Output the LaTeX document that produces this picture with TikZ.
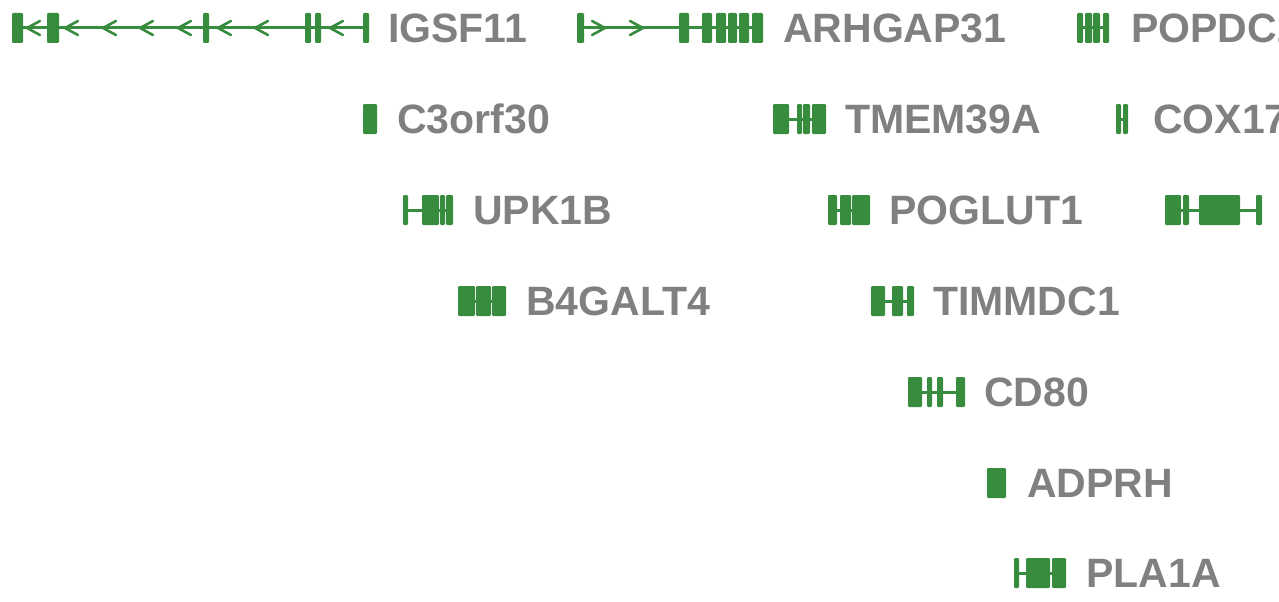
\documentclass[tikz,border=0pt]{standalone}
\usepackage{fontspec}
\setmainfont{Liberation Sans}
\usepackage{xcolor}
\usepackage{tikz}
\usetikzlibrary{calc}
\definecolor{exongreen}{RGB}{56,140,62}
\definecolor{labelgray}{RGB}{128,128,128}

\begin{document}
\begin{tikzpicture}[
  x=1pt, y=-1pt,
  exon/.style={fill=exongreen, rounded corners=1.2pt},
  intron/.style={draw=exongreen, line width=3pt},
  chev/.style={draw=exongreen, line width=2.6pt, line cap=round},
  lbl/.style={font=\fontsize{41}{49}\selectfont\bfseries, text=labelgray, anchor=base west, inner sep=0pt}
]
\useasboundingbox (0,0) rectangle (1279,602);
\clip (0,0) rectangle (1279,602);
\def\exh{15}    % half exon height
\def\chv{7}     % half chevron height
\def\cap{14.6}  % half cap height of the labels

%========== row 1 ==========
\def\yy{28}
% IGSF11, minus strand
\draw[intron] (12,\yy) -- (369,\yy);
\foreach \a/\b in {12/23,47/59,203/209,305/311,315/321,363/369}{\fill[exon] (\a,\yy-\exh) rectangle (\b,\yy+\exh);}
\foreach \c in {27,65,103,140,178,218,255,330}{\draw[chev] (\c+13,\yy-\chv) -- (\c,\yy) -- (\c+13,\yy+\chv);}
\node[lbl] (igsf11) at (388,\yy+\cap) {IGSF11};
% ARHGAP31, plus strand
\draw[intron] (577,\yy) -- (763,\yy);
\foreach \a/\b in {577/584,679/689,702/712,716/726,728/737,739/749,752/763}{\fill[exon] (\a,\yy-\exh) rectangle (\b,\yy+\exh);}
\foreach \c in {605,643}{\draw[chev] (\c-13,\yy-\chv) -- (\c,\yy) -- (\c-13,\yy+\chv);}
\node[lbl] (arhgap31) at (783,\yy+\cap) {ARHGAP31};
% POPDC2
\draw[intron] (1077,\yy) -- (1109,\yy);
\foreach \a/\b in {1077/1083,1085/1092,1093/1100,1103/1109}{\fill[exon] (\a,\yy-\exh) rectangle (\b,\yy+\exh);}
\node[lbl] (popdc2) at (1131,\yy+\cap) {POPDC2};

%========== row 2 ==========
\def\yy{119}
% C3orf30
\fill[exon] (363,\yy-\exh) rectangle (377,\yy+\exh);
\node[lbl] (c3orf30) at (397,\yy+\cap) {C3orf30};
% TMEM39A
\draw[intron] (773,\yy) -- (826,\yy);
\foreach \a/\b in {773/789,797/802,803/810,812/826}{\fill[exon] (\a,\yy-\exh) rectangle (\b,\yy+\exh);}
\node[lbl] (tmem39a) at (845,\yy+\cap) {TMEM39A};
% COX17
\draw[intron] (1116,\yy) -- (1128,\yy);
\foreach \a/\b in {1116/1121,1123/1128}{\fill[exon] (\a,\yy-\exh) rectangle (\b,\yy+\exh);}
\node[lbl] (cox17) at (1153,\yy+\cap) {COX17};

%========== row 3 ==========
\def\yy{210}
% UPK1B
\draw[intron] (403,\yy) -- (453,\yy);
\foreach \a/\b in {403/408,422/439,440/445,446/453}{\fill[exon] (\a,\yy-\exh) rectangle (\b,\yy+\exh);}
\node[lbl] (upk1b) at (473,\yy+\cap) {UPK1B};
% POGLUT1
\draw[intron] (828,\yy) -- (870,\yy);
\foreach \a/\b in {828/837,840/851,852/870}{\fill[exon] (\a,\yy-\exh) rectangle (\b,\yy+\exh);}
\node[lbl] (poglut1) at (889,\yy+\cap) {POGLUT1};
% gene at the right edge, label outside the frame
\draw[intron] (1165,\yy) -- (1262,\yy);
\foreach \a/\b in {1165/1181,1183/1189,1199/1240,1256/1262}{\fill[exon] (\a,\yy-\exh) rectangle (\b,\yy+\exh);}

%========== row 4 ==========
\def\yy{301}
% B4GALT4
\draw[intron] (458,\yy) -- (506,\yy);
\foreach \a/\b in {458/475,476/491,492/506}{\fill[exon] (\a,\yy-\exh) rectangle (\b,\yy+\exh);}
\node[lbl] (b4galt4) at (526,\yy+\cap) {B4GALT4};
% TIMMDC1
\draw[intron] (871,\yy) -- (914,\yy);
\foreach \a/\b in {871/885,892/903,907/914}{\fill[exon] (\a,\yy-\exh) rectangle (\b,\yy+\exh);}
\node[lbl] (timmdc1) at (933,\yy+\cap) {TIMMDC1};

%========== rows 5 to 7 ==========
\def\yy{392}
% CD80
\draw[intron] (908,\yy) -- (965,\yy);
\foreach \a/\b in {908/922,927/932,937/943,956/965}{\fill[exon] (\a,\yy-\exh) rectangle (\b,\yy+\exh);}
\node[lbl] (cd80) at (984,\yy+\cap) {CD80};
\def\yy{483}
% ADPRH
\fill[exon] (987,\yy-\exh) rectangle (1006,\yy+\exh);
\node[lbl] (adprh) at (1027,\yy+\cap) {ADPRH};
\def\yy{573}
% PLA1A
\draw[intron] (1014,\yy) -- (1066,\yy);
\foreach \a/\b in {1014/1019,1026/1050,1052/1066}{\fill[exon] (\a,\yy-\exh) rectangle (\b,\yy+\exh);}
\node[lbl] (pla1a) at (1086,\yy+\cap) {PLA1A};
\end{tikzpicture}
\end{document}
